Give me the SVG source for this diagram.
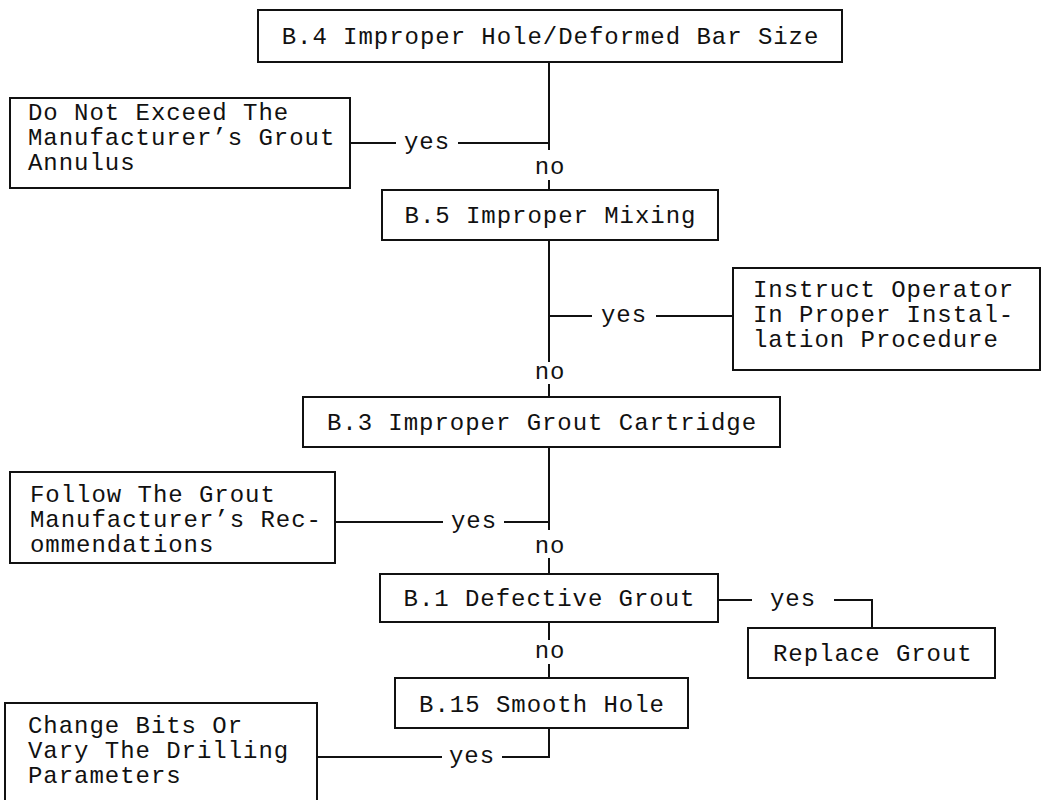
<svg xmlns="http://www.w3.org/2000/svg" width="1048" height="800" viewBox="0 0 1048 800">
<style>
rect{fill:#fff;stroke:#111;stroke-width:2}
text{font-family:"Liberation Mono","Courier New",monospace;font-size:24px;letter-spacing:0.96px;fill:#111}
.c{text-anchor:middle}
#connectors path{fill:none;stroke:#111;stroke-width:2}
</style>
<rect x="0" y="0" width="1048" height="800" style="stroke:none"/>
<g id="connectors">
<path d="M549 62V150M549 180V190"/>
<path d="M350 143H396M458 143H549"/>
<path d="M549 240V362M549 384V397"/>
<path d="M549 316H592M656 316H733"/>
<path d="M549 447V530M549 558V574"/>
<path d="M335 522H443M504 522H549"/>
<path d="M718 600H752M834 600H872V628"/>
<path d="M549 622V640M549 664V678"/>
<path d="M549 728V757H502M442 757H317"/>
<text class="c" x="427" y="149">yes</text>
<text class="c" x="550" y="174">no</text>
<text class="c" x="624" y="322">yes</text>
<text class="c" x="550" y="379">no</text>
<text class="c" x="474" y="528">yes</text>
<text class="c" x="550" y="553">no</text>
<text class="c" x="793" y="606">yes</text>
<text class="c" x="550" y="658">no</text>
<text class="c" x="472" y="763">yes</text>
</g>
<g id="b4"><rect x="258" y="10" width="584" height="52"/><text class="c" x="550.5" y="44">B.4 Improper Hole/Deformed Bar Size</text></g>
<g id="annulus"><rect x="10" y="98" width="340" height="90"/><text x="28" y="120">Do Not Exceed The</text><text x="28" y="145">Manufacturer’s Grout</text><text x="28" y="170">Annulus</text></g>
<g id="b5"><rect x="382" y="190" width="336" height="50"/><text class="c" x="550.5" y="223">B.5 Improper Mixing</text></g>
<g id="instruct"><rect x="733" y="268" width="307" height="102"/><text x="753" y="297">Instruct Operator</text><text x="753" y="322">In Proper Instal-</text><text x="753" y="347">lation Procedure</text></g>
<g id="b3"><rect x="303" y="397" width="477" height="50"/><text class="c" x="542" y="430">B.3 Improper Grout Cartridge</text></g>
<g id="follow"><rect x="10" y="472" width="325" height="91"/><text x="30" y="502">Follow The Grout</text><text x="30" y="527">Manufacturer’s Rec-</text><text x="30" y="552">ommendations</text></g>
<g id="b1"><rect x="380" y="574" width="338" height="48"/><text class="c" x="549.5" y="606">B.1 Defective Grout</text></g>
<g id="replace"><rect x="748" y="628" width="247" height="50"/><text x="773" y="661">Replace Grout</text></g>
<g id="b15"><rect x="395" y="678" width="293" height="50"/><text class="c" x="542" y="712">B.15 Smooth Hole</text></g>
<g id="change"><rect x="5" y="703" width="312" height="110"/><text x="28" y="733">Change Bits Or</text><text x="28" y="758">Vary The Drilling</text><text x="28" y="783">Parameters</text></g>
</svg>
